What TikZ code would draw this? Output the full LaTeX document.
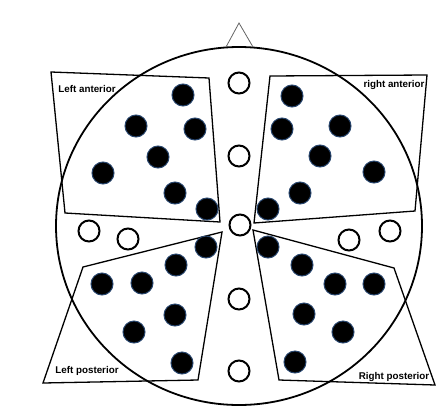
\documentclass[tikz,border=0pt]{standalone}
\usepackage{fontspec}
\newfontfamily\arialfont{Liberation Sans}
\usepackage{tikz}
\usetikzlibrary{positioning}

\begin{document}
\begin{tikzpicture}[
    x=1pt, y=-1pt,
    electrode/.style={
        circle,
        draw=black,
        line width=2pt,
        fill=white,
        minimum size=21pt,
        inner sep=0pt
    },
    active/.style={
        circle,
        draw={rgb,255:red,40;green,70;blue,110},
        line width=1pt,
        fill=black,
        minimum size=22pt,
        inner sep=0pt
    },
    region/.style={draw, line width=1.3pt, line join=miter},
    regionlabel/.style={font=\arialfont\bfseries\fontsize{9.8}{11}\selectfont, inner sep=0pt}
]
\useasboundingbox (0,0) rectangle (444,410);

% head and nose
\draw[line width=1.8pt] (239,226) ellipse [x radius=183, y radius=179];
\draw[gray!80!black, line width=0.8pt] (226,47) -- (239,23) -- (253,47);

% the four regions
\draw[region] (51,72) -- (209,78) -- (220,222) -- (65,213) -- cycle;
\draw[region] (270,76) -- (427,75) -- (415,211) -- (254,223) -- cycle;
\draw[region] (222,232) -- (83,267) -- (43,383) -- (198,380) -- cycle;
\draw[region] (253,230) -- (394,268) -- (435,385) -- (279,380) -- cycle;

\node[regionlabel] (laLabel) at (87,89) {Left anterior};
\node[regionlabel] (raLabel) at (394,85) {right anterior};
\node[regionlabel] (lpLabel) at (87,371) {Left posterior};
\node[regionlabel] (rpLabel) at (394,377) {Right posterior};

% midline and lateral electrodes (not used)
\node[electrode] (mid1) at (239,83) {};
\node[electrode] (mid2) at (239,156) {};
\node[electrode] (mid3) at (240,225) {};
\node[electrode] (mid4) at (239,299) {};
\node[electrode] (mid5) at (239,371) {};
\node[electrode] (lat1) at (89,231) {};
\node[electrode] (lat2) at (128,239) {};
\node[electrode] (lat3) at (349,240) {};
\node[electrode] (lat4) at (390,231) {};

% electrodes in each region
\foreach \x/\y [count=\i] in {183/95, 136/126, 195/129, 158/157, 103/173, 175/193, 207/209}
    \node[active] (la\i) at (\x,\y) {};
\foreach \x/\y [count=\i] in {292/96, 282/129, 340/126, 320/156, 374/172, 300/193, 268/209}
    \node[active] (ra\i) at (\x,\y) {};
\foreach \x/\y [count=\i] in {206/247, 176/265, 102/284, 142/283, 175/315, 134/332, 182/363}
    \node[active] (lp\i) at (\x,\y) {};
\foreach \x/\y [count=\i] in {268/247, 302/265, 335/284, 374/284, 304/314, 343/332, 295/362}
    \node[active] (rp\i) at (\x,\y) {};
\end{tikzpicture}
\end{document}
